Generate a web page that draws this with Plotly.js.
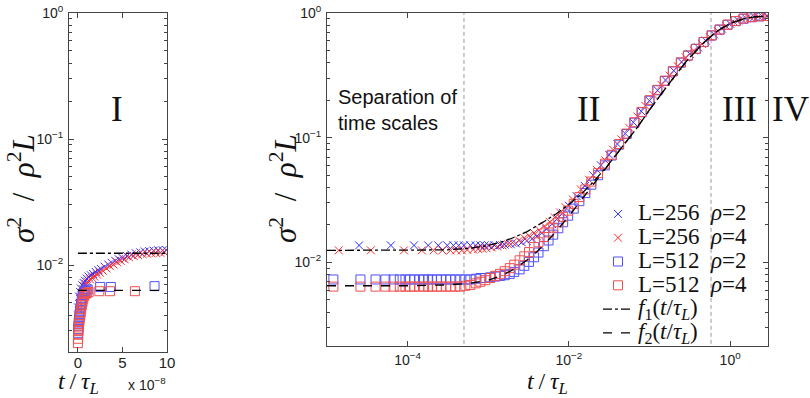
<!DOCTYPE html>
<html>
<head>
<meta charset="utf-8">
<script src="https://cdn.plot.ly/plotly-3.0.1.min.js"></script>
<style>html,body{margin:0;padding:0;background:#fff}#chart{width:810px;height:398px}</style>
</head>
<body>
<div id="chart"></div>
<script>
// ---------- Left panel (region I), t in units of 1e-8 ----------
var leftX256r2 = [0.03, 0.15, 0.25, 0.35, 0.5, 0.65, 0.8, 1.0, 1.2, 1.45, 1.7, 2.0, 2.3, 2.6, 3.0, 3.4, 3.8, 4.2, 4.6, 5.0, 5.5, 6.0, 6.5, 7.0, 7.5, 8.0, 8.5, 9.0, 9.5, 9.9];
var leftY256r2 = [0.0046, 0.0056, 0.0061, 0.0065, 0.0069, 0.0072, 0.0075, 0.0078, 0.0081, 0.0083, 0.0085, 0.0088, 0.0091, 0.0093, 0.0097, 0.0101, 0.0104, 0.0108, 0.0111, 0.0114, 0.0118, 0.0121, 0.0124, 0.0126, 0.0128, 0.0129, 0.0130, 0.0131, 0.0131, 0.0132];
var leftX256r4 = [0.1, 0.2, 0.3, 0.45, 0.6, 0.75, 0.9, 1.1, 1.35, 1.6, 1.85, 2.15, 2.45, 2.8, 3.2, 3.6, 4.0, 4.4, 4.8, 5.25, 5.75, 6.25, 6.75, 7.25, 7.75, 8.25, 8.75, 9.25, 9.7];
var leftY256r4 = [0.0044, 0.0050, 0.0055, 0.0060, 0.0064, 0.0068, 0.0071, 0.0074, 0.0077, 0.0079, 0.0081, 0.0084, 0.0087, 0.0090, 0.0094, 0.0098, 0.0101, 0.0105, 0.0108, 0.0111, 0.0115, 0.0118, 0.0120, 0.0122, 0.0123, 0.0124, 0.0125, 0.0125, 0.0126];
var leftX512r2 = [0.01, 0.03, 0.06, 0.09, 0.12, 0.16, 0.2, 0.25, 0.3, 0.36, 0.43, 0.5, 0.6, 0.7, 0.82, 0.95, 1.1, 2.5, 3.7, 8.6];
var leftY512r2 = [0.0029, 0.0031, 0.0033, 0.0035, 0.0037, 0.0039, 0.0041, 0.0043, 0.0046, 0.0049, 0.0052, 0.0055, 0.0058, 0.0060, 0.0062, 0.0063, 0.0064, 0.0067, 0.0067, 0.0068];
var leftX512r4 = [0.0, 0.02, 0.04, 0.07, 0.1, 0.13, 0.17, 0.21, 0.26, 0.31, 0.37, 0.44, 0.52, 0.61, 0.72, 0.85, 1.0, 1.2, 2.4, 3.6, 6.4];
var leftY512r4 = [0.0024, 0.0026, 0.0028, 0.0030, 0.0032, 0.0034, 0.0036, 0.0038, 0.0040, 0.0042, 0.0045, 0.0048, 0.0051, 0.0054, 0.0057, 0.0059, 0.0060, 0.0061, 0.0062, 0.0062, 0.0062];
var leftFT = [0, 10];
var leftF1 = [0.0124, 0.0124];
var leftF2 = [0.0063, 0.0063];

// ---------- Right panel, t / tau_L ----------
var t256r2 = [2.5e-5, 6.2e-5, 1.2e-4, 1.8e-4, 2.4e-4, 3.1e-4, 3.7e-4, 4.3e-4, 5e-4, 6e-4, 7e-4, 8e-4, 9e-4, 1e-3, 1.2e-3, 1.4e-3, 1.6e-3, 1.9e-3, 2.2e-3, 2.6e-3, 3e-3, 3.5e-3, 4e-3, 4.6e-3, 5.3e-3, 6.2e-3, 7.2e-3, 8.4e-3, 0.01, 0.0125, 0.0158, 0.02, 0.025, 0.0316, 0.04, 0.05, 0.063, 0.079, 0.1, 0.126, 0.158, 0.2, 0.25, 0.316, 0.4, 0.5, 0.63, 0.79, 1.0, 1.26, 1.58, 2.0, 2.5, 2.9];
var s256r2 = [0.0137, 0.0137, 0.0137, 0.0137, 0.0137, 0.0137, 0.0137, 0.0137, 0.0137, 0.0137, 0.0137, 0.0137, 0.0137, 0.0137, 0.0137, 0.0138, 0.0139, 0.0140, 0.0142, 0.0145, 0.0149, 0.0155, 0.0162, 0.0172, 0.0185, 0.0203, 0.0225, 0.0250, 0.0285, 0.034, 0.041, 0.050, 0.060, 0.073, 0.089, 0.108, 0.133, 0.163, 0.198, 0.240, 0.290, 0.345, 0.405, 0.470, 0.530, 0.600, 0.675, 0.750, 0.820, 0.870, 0.905, 0.930, 0.940, 0.945];
var t256r4 = [1.4e-5, 3.5e-5, 9e-5, 1.5e-4, 2.1e-4, 2.7e-4, 3.4e-4, 4e-4, 4.7e-4, 5.5e-4, 6.5e-4, 7.5e-4, 8.5e-4, 9.5e-4, 1.1e-3, 1.3e-3, 1.5e-3, 1.75e-3, 2e-3, 2.4e-3, 2.8e-3, 3.2e-3, 3.7e-3, 4.3e-3, 5e-3, 5.8e-3, 6.7e-3, 7.8e-3, 9.1e-3, 0.0112, 0.0141, 0.0178, 0.0224, 0.0282, 0.0355, 0.0447, 0.0562, 0.0708, 0.0891, 0.112, 0.141, 0.178, 0.224, 0.282, 0.355, 0.447, 0.562, 0.708, 0.891, 1.12, 1.41, 1.78, 2.24, 2.82];
var s256r4 = [0.0125, 0.0125, 0.0125, 0.0125, 0.0125, 0.0125, 0.0125, 0.0125, 0.0125, 0.0126, 0.0127, 0.0128, 0.0129, 0.0130, 0.0132, 0.0134, 0.0137, 0.0140, 0.0144, 0.0150, 0.0157, 0.0164, 0.0172, 0.0182, 0.0196, 0.0211, 0.0229, 0.0251, 0.0277, 0.032, 0.0385, 0.046, 0.055, 0.066, 0.080, 0.097, 0.120, 0.148, 0.180, 0.220, 0.265, 0.315, 0.375, 0.440, 0.500, 0.565, 0.640, 0.715, 0.785, 0.845, 0.890, 0.920, 0.937, 0.945];
var t512 = [1.2e-5, 2.6e-5, 4e-5, 5.3e-5, 6.7e-5, 8e-5, 9.4e-5, 1.07e-4, 1.2e-4, 1.4e-4, 1.6e-4, 1.8e-4, 2e-4, 2.3e-4, 2.6e-4, 3e-4, 3.4e-4, 3.9e-4, 4.5e-4, 5.2e-4, 6e-4, 7e-4, 8e-4, 9.2e-4, 1.06e-3, 1.22e-3, 1.4e-3, 1.6e-3, 1.85e-3, 2.1e-3, 2.45e-3, 2.8e-3, 3.2e-3, 3.7e-3, 4.2e-3, 4.9e-3, 5.6e-3, 6.4e-3, 7.4e-3, 8.5e-3, 9.8e-3, 0.0115, 0.0135, 0.016, 0.019, 0.023, 0.028, 0.034, 0.042, 0.052, 0.065, 0.08, 0.1, 0.125, 0.155, 0.195, 0.245, 0.3, 0.375, 0.47, 0.59, 0.74, 0.93, 1.17, 1.47, 1.85, 2.3, 2.9];
var s512r2 = [0.0073, 0.0073, 0.0073, 0.0073, 0.0073, 0.0073, 0.0073, 0.0073, 0.0073, 0.0073, 0.0073, 0.0073, 0.0073, 0.0073, 0.0073, 0.0073, 0.0073, 0.0073, 0.0073, 0.0073, 0.0073, 0.0074, 0.0075, 0.0075, 0.0076, 0.0077, 0.0078, 0.0079, 0.0081, 0.0084, 0.0088, 0.0094, 0.0101, 0.0110, 0.0120, 0.0135, 0.0150, 0.0167, 0.0188, 0.0210, 0.0237, 0.027, 0.031, 0.036, 0.042, 0.050, 0.060, 0.072, 0.088, 0.107, 0.132, 0.160, 0.198, 0.240, 0.285, 0.340, 0.400, 0.455, 0.515, 0.585, 0.660, 0.735, 0.805, 0.860, 0.900, 0.925, 0.940, 0.945];
var s512r4 = [0.0064, 0.0064, 0.0064, 0.0064, 0.0064, 0.0064, 0.0064, 0.0064, 0.0064, 0.0064, 0.0064, 0.0064, 0.0064, 0.0064, 0.0064, 0.0064, 0.0064, 0.0064, 0.0064, 0.0065, 0.0066, 0.0068, 0.0070, 0.0072, 0.0075, 0.0078, 0.0081, 0.0085, 0.0090, 0.0096, 0.0104, 0.0112, 0.0121, 0.0133, 0.0145, 0.0160, 0.0174, 0.0190, 0.0210, 0.0232, 0.0260, 0.0295, 0.0335, 0.0385, 0.0445, 0.052, 0.062, 0.073, 0.089, 0.108, 0.133, 0.161, 0.200, 0.242, 0.287, 0.342, 0.402, 0.457, 0.517, 0.587, 0.662, 0.737, 0.807, 0.862, 0.902, 0.927, 0.940, 0.947];
var tFit = [1e-5, 1e-4, 3e-4, 6e-4, 1e-3, 1.5e-3, 2e-3, 3e-3, 4e-3, 5e-3, 7e-3, 0.01, 0.015, 0.02, 0.03, 0.05, 0.07, 0.1, 0.15, 0.2, 0.3, 0.5, 0.7, 1.0, 1.5, 2.0, 2.9];
var f1 = [0.0125, 0.0125, 0.0126, 0.0130, 0.0137, 0.0147, 0.0157, 0.0176, 0.0196, 0.0214, 0.0246, 0.0292, 0.0365, 0.044, 0.0595, 0.091, 0.120, 0.167, 0.240, 0.305, 0.425, 0.600, 0.720, 0.825, 0.900, 0.930, 0.945];
var f2 = [0.0065, 0.0065, 0.0066, 0.0068, 0.0072, 0.0079, 0.0087, 0.0104, 0.0122, 0.0140, 0.0178, 0.0235, 0.0330, 0.042, 0.059, 0.090, 0.120, 0.167, 0.240, 0.305, 0.425, 0.600, 0.720, 0.825, 0.900, 0.930, 0.945];
var regionBounds = [5e-4, 0.58];
var boundSpan = [1e-4, 10];

// ---------- Tick labels ----------
var yTickVals = [0.01, 0.1, 1];
var yTickText = ['10<sup>\u22122</sup>', '10<sup>\u22121</sup>', '10<sup>0</sup>'];
var x2TickVals = [1e-4, 1e-2, 1];
var x2TickText = ['10<sup>\u22124</sup>', '10<sup>\u22122</sup>', '10<sup>0</sup>'];
var x1TickVals = [0, 5, 10];
var legendNames = ['L=256\u2002<i>\u03c1</i>=2', 'L=256\u2002<i>\u03c1</i>=4', 'L=512\u2002<i>\u03c1</i>=2', 'L=512\u2002<i>\u03c1</i>=4', '<i>f</i><sub>1</sub>(<i>t</i>/<i>\u03c4</i><sub><i>L</i></sub>)', '<i>f</i><sub>2</sub>(<i>t</i>/<i>\u03c4</i><sub><i>L</i></sub>)'];

// minor log ticks (axis decoration)
var minorY = [];
for (var e = -3; e <= 0; e++) { for (var m = 2; m <= 9; m++) { minorY.push(m * Math.pow(10, e)); } }

var BLUE = 'rgb(45,45,255)', RED = 'rgb(255,45,45)';
var BLUE_SQ = 'rgb(80,80,250)', RED_SQ = 'rgb(240,80,80)';

function xs(x, y, color, xa, ya, name, show) {
  return {x: x, y: y, xaxis: xa, yaxis: ya, type: 'scatter', mode: 'markers', name: name, showlegend: show,
    marker: {symbol: 'x-thin-open', size: 8, color: color, line: {width: 1, color: color}}};
}
function sq(x, y, color, xa, ya, name, show) {
  return {x: x, y: y, xaxis: xa, yaxis: ya, type: 'scatter', mode: 'markers', name: name, showlegend: show,
    marker: {symbol: 'square-open', size: 9, color: color, line: {width: 1, color: color}}};
}
function ln(x, y, dash, xa, ya, name, show) {
  return {x: x, y: y, xaxis: xa, yaxis: ya, type: 'scatter', mode: 'lines', name: name, showlegend: show,
    line: {color: '#000', width: 1.3, dash: dash}};
}

var traces = [
  // region boundaries
  {x: [regionBounds[0], regionBounds[0]], y: boundSpan, xaxis: 'x2', yaxis: 'y2', mode: 'lines', showlegend: false, line: {color: '#9a9a9a', width: 1, dash: '4px,3px'}},
  {x: [regionBounds[1], regionBounds[1]], y: boundSpan, xaxis: 'x2', yaxis: 'y2', mode: 'lines', showlegend: false, line: {color: '#9a9a9a', width: 1, dash: '4px,3px'}},
  // right panel (legend)
  xs(t256r2, s256r2, BLUE, 'x2', 'y2', legendNames[0], true),
  xs(t256r4, s256r4, RED, 'x2', 'y2', legendNames[1], true),
  sq(t512, s512r2, BLUE_SQ, 'x2', 'y2', legendNames[2], true),
  sq(t512, s512r4, RED_SQ, 'x2', 'y2', legendNames[3], true),
  ln(tFit, f1, 'dashdot', 'x2', 'y2', legendNames[4], true),
  ln(tFit, f2, 'dash', 'x2', 'y2', legendNames[5], true),
  // left panel
  xs(leftX256r2, leftY256r2, BLUE, 'x', 'y', '', false),
  xs(leftX256r4, leftY256r4, RED, 'x', 'y', '', false),
  sq(leftX512r2, leftY512r2, BLUE_SQ, 'x', 'y', '', false),
  sq(leftX512r4, leftY512r4, RED_SQ, 'x', 'y', '', false),
  ln(leftFT, leftF1, 'dashdot', 'x', 'y', '', false),
  ln(leftFT, leftF2, 'dash', 'x', 'y', '', false)
];

var tickFont = {family: 'Liberation Sans, Arial, sans-serif', size: 14, color: '#222'};
var axBase = {showline: true, linecolor: '#444', linewidth: 1, mirror: 'ticks', ticks: 'inside', ticklen: 5,
  tickcolor: '#444', showgrid: false, zeroline: false, tickfont: tickFont};

var W = 810, H = 398;
function px(v) { return v / W; }
function py(v) { return 1 - v / H; }

var serif = 'Liberation Serif, serif';
var sans = 'Liberation Sans, Arial, sans-serif';
var yTitle = '<i>\u03c3</i><sup>2</sup>\u2002/\u2002<i>\u03c1</i><sup>2</sup><i>L</i>';
var xTitle = '<i>t</i>\u2009/\u2009<i>\u03c4</i><sub><i>L</i></sub>';

var layout = {
  width: W, height: H, margin: {l: 0, r: 0, t: 0, b: 0},
  paper_bgcolor: '#fff', plot_bgcolor: '#fff', showlegend: true,
  xaxis: Object.assign({}, axBase, {domain: [px(69), px(167)], range: [-1, 10], tickmode: 'array', tickvals: x1TickVals, anchor: 'y', ticklabelstandoff: -3,
    tickfont: {family: sans, size: 15, color: '#222'}}),
  yaxis: Object.assign({}, axBase, {type: 'log', domain: [py(352), py(13)], range: [-2.69, 0], tickmode: 'array', tickvals: yTickVals, ticktext: yTickText, anchor: 'x', ticklabelstandoff: 2,
    minor: {tickmode: 'array', tickvals: minorY, ticks: 'inside', ticklen: 3, tickcolor: '#444'}}),
  xaxis2: Object.assign({}, axBase, {type: 'log', domain: [px(327), px(768)], range: [-5, 0.47], tickmode: 'array', tickvals: x2TickVals, ticktext: x2TickText, anchor: 'y2', ticklabelstandoff: 1}),
  yaxis2: Object.assign({}, axBase, {type: 'log', domain: [py(346), py(13)], range: [-2.67, 0], tickmode: 'array', tickvals: yTickVals, ticktext: yTickText, anchor: 'x2', ticklabelstandoff: 2,
    minor: {tickmode: 'array', tickvals: minorY, ticks: 'inside', ticklen: 3, tickcolor: '#444'}}),
  legend: {x: px(598), y: py(197), xanchor: 'left', yanchor: 'top', bgcolor: 'rgba(0,0,0,0)', borderwidth: 0,
    font: {family: serif, size: 16, color: '#111'}, itemwidth: 30, tracegroupgap: 0},
  annotations: [
    {xref: 'paper', yref: 'paper', x: px(117), y: py(110), xanchor: 'center', yanchor: 'middle', text: 'I', showarrow: false, font: {family: serif, size: 35, color: '#111'}},
    {xref: 'paper', yref: 'paper', x: px(588), y: py(110), xanchor: 'center', yanchor: 'middle', text: 'II', showarrow: false, font: {family: serif, size: 35, color: '#111'}},
    {xref: 'paper', yref: 'paper', x: px(739), y: py(110), xanchor: 'center', yanchor: 'middle', text: 'III', showarrow: false, font: {family: serif, size: 35, color: '#111'}},
    {xref: 'paper', yref: 'paper', x: px(790), y: py(110), xanchor: 'center', yanchor: 'middle', text: 'IV', showarrow: false, font: {family: serif, size: 35, color: '#111'}},
    {xref: 'paper', yref: 'paper', x: px(336), y: py(110), xanchor: 'left', yanchor: 'middle', align: 'left', text: 'Separation of<br>time scales', showarrow: false, font: {family: sans, size: 20, color: '#111'}},
    {xref: 'paper', yref: 'paper', x: px(147), y: py(384), xanchor: 'center', yanchor: 'middle', text: 'x 10<sup>\u22128</sup>', showarrow: false, font: {family: sans, size: 14, color: '#222'}},
    {xref: 'paper', yref: 'paper', x: px(78), y: py(383), xanchor: 'center', yanchor: 'middle', text: xTitle, showarrow: false, font: {family: serif, size: 24, color: '#111'}},
    {xref: 'paper', yref: 'paper', x: px(547), y: py(383), xanchor: 'center', yanchor: 'middle', text: xTitle, showarrow: false, font: {family: serif, size: 24, color: '#111'}},
    {xref: 'paper', yref: 'paper', x: px(21), y: py(189), xanchor: 'center', yanchor: 'middle', textangle: -90, text: yTitle, showarrow: false, font: {family: serif, size: 31, color: '#111'}},
    {xref: 'paper', yref: 'paper', x: px(283), y: py(189), xanchor: 'center', yanchor: 'middle', textangle: -90, text: yTitle, showarrow: false, font: {family: serif, size: 31, color: '#111'}}
  ]
};

// enlarge legend text while keeping compact row height
traces.forEach(function (t) { if (t.showlegend) { t.name = '<span style="font-size:23px">' + t.name + '</span>'; } });

Plotly.newPlot('chart', traces, layout, {staticPlot: true, displayModeBar: false});
</script>
</body>
</html>
